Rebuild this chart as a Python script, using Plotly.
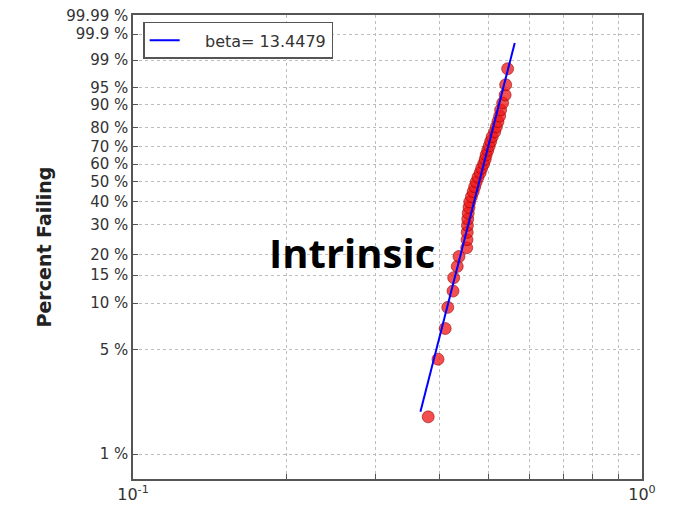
import numpy as np
import plotly.graph_objects as go

# Failure times (sorted) and their median-rank percent failing
failure_time = [0.3802, 0.3974, 0.4105, 0.4153, 0.4253, 0.4266, 0.4335, 0.4370,
                0.4525, 0.4531, 0.4535, 0.4540, 0.4546, 0.4556, 0.4573, 0.4587,
                0.4623, 0.4660, 0.4691, 0.4724, 0.4762, 0.4809, 0.4842, 0.4886,
                0.4920, 0.4942, 0.4976, 0.5010, 0.5043, 0.5078, 0.5136, 0.5175,
                0.5212, 0.5252, 0.5276, 0.5324, 0.5384, 0.5397, 0.5445]
percent_failing = [1.78, 4.31, 6.85, 9.39, 11.93, 14.47, 17.01, 19.54,
                   22.08, 24.62, 27.16, 29.70, 32.23, 34.77, 37.31, 39.85,
                   42.39, 44.92, 47.46, 50.00, 52.54, 55.08, 57.61, 60.15,
                   62.69, 65.23, 67.77, 70.30, 72.84, 75.38, 77.92, 80.46,
                   83.00, 85.53, 88.07, 90.61, 93.15, 95.69, 98.22]

# Weibull fit parameters
beta = 13.4479
eta = 0.492
fit_range = [0.367, 0.5623]

# Probability-axis ticks
prob_ticks = [1, 5, 10, 15, 20, 30, 40, 50, 60, 70, 80, 90, 95, 99, 99.9, 99.99]
prob_labels = ["1 %", "5 %", "10 %", "15 %", "20 %", "30 %", "40 %", "50 %",
               "60 %", "70 %", "80 %", "90 %", "95 %", "99 %", "99.9 %", "99.99 %"]
x_grid = [0.1, 0.2, 0.3, 0.4, 0.5, 0.6, 0.7, 0.8, 0.9, 1.0]
x_labels = ["10<sup>-1</sup>", "", "", "", "", "", "", "", "", "10<sup>0</sup>"]


def weibull_y(p_percent):
    p = np.asarray(p_percent, dtype=float) / 100.0
    return np.log(-np.log(1.0 - p))


fx = np.array(fit_range)
fy = beta * np.log(fx / eta)

fig = go.Figure()
fig.add_trace(go.Scatter(
    x=failure_time, y=weibull_y(percent_failing), mode="markers",
    marker=dict(size=12, color="rgba(240,20,20,0.75)",
                line=dict(color="rgba(140,0,0,0.55)", width=1)),
    showlegend=False, hoverinfo="x+y"))
fig.add_trace(go.Scatter(
    x=fx, y=fy, mode="lines", line=dict(color="#0000ff", width=2),
    name="\u00a0\u00a0\u00a0\u00a0beta= " + f"{beta}"))

font_main = "DejaVu Sans"
fig.update_layout(
    width=677, height=508,
    margin=dict(l=133, r=35, t=15, b=29, autoexpand=False),
    paper_bgcolor="white", plot_bgcolor="white",
    font=dict(family=font_main, size=16, color="#333333"),
    legend=dict(x=0.02, y=0.985, xanchor="left", yanchor="top",
                bordercolor="#555555", borderwidth=1.5, bgcolor="white",
                font=dict(size=16, color="#333333"),
                tracegroupgap=0, itemwidth=30),
    showlegend=True,
    annotations=[dict(text="<b>Intrinsic</b>", x=0.430, y=0.489,
                      xref="paper", yref="paper", showarrow=False,
                      font=dict(family="Open Sans", size=40, color="black"))],
)
fig.update_xaxes(
    type="log", range=[-1, 0], tickvals=x_grid, ticktext=x_labels,
    automargin=False,
    showgrid=True, gridcolor="#bdbdbd", griddash="dot", gridwidth=1,
    ticks="inside", ticklen=5, tickcolor="#555555",
    showline=True, mirror=True, linecolor="#555555", linewidth=1.5,
    zeroline=False, tickfont=dict(size=16, color="#333333"))
fig.update_yaxes(
    range=[-4.986, 2.23], tickvals=weibull_y(prob_ticks), ticktext=prob_labels,
    automargin=False,
    showgrid=True, gridcolor="#bdbdbd", griddash="dot", gridwidth=1,
    ticks="inside", ticklen=5, tickcolor="#555555",
    showline=True, mirror=True, linecolor="#555555", linewidth=1.5,
    zeroline=False, tickfont=dict(size=15, color="#333333"),
    title=dict(text="<b>Percent Failing</b>", standoff=10,
               font=dict(size=19, color="#222222")))

fig.write_html("out.html")
